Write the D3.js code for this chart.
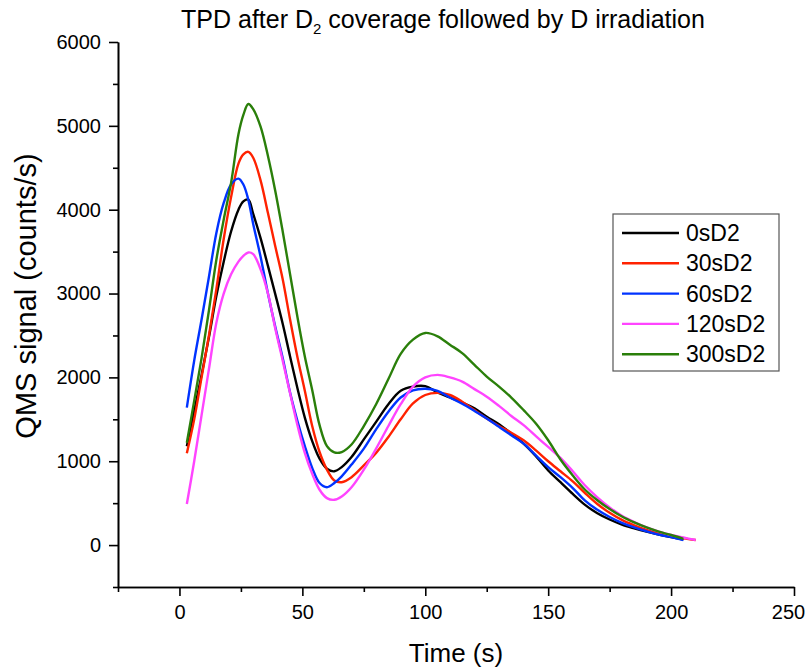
<!DOCTYPE html>
<html>
<head>
<meta charset="utf-8">
<script src="https://cdn.jsdelivr.net/npm/d3@7"></script>
<style>
  body { margin: 0; background: #fff; }
  text { font-family: "Liberation Sans", Arial, sans-serif; }
</style>
</head>
<body>
<div id="chart"></div>
<script>
// sample times (s); null where a run has already ended
const times = [3, 6, 9, 12, 15, 18, 21, 24, 26, 28, 30, 33, 36, 39, 42, 45, 48, 51, 54, 57, 60, 63, 66,
  70, 75, 80, 85, 90, 95, 100, 105, 110, 115, 120, 125, 130, 135, 140, 145, 150, 155, 160, 165, 170,
  175, 180, 185, 190, 195, 200, 205, 210];

const s0 = [1180, 1600, 2030, 2480, 2970, 3380, 3740, 4000, 4100, 4120, 3950, 3660, 3330, 2990, 2640, 2250, 1870, 1520, 1240, 1030, 910, 880,
  930, 1050, 1260, 1470, 1680, 1840, 1890, 1895, 1820, 1760, 1700, 1630, 1530, 1440, 1330, 1210, 1060, 890, 750, 610, 480, 380,
  305, 245, 200, 160, 125, 95, 65, null];
const s30 = [1095, 1500, 2000, 2500, 3050, 3650, 4150, 4550, 4660, 4690, 4620, 4350, 3960, 3560, 3170, 2690, 2240, 1840, 1420, 1110, 900, 770,
  750, 810, 950, 1100, 1290, 1500, 1690, 1790, 1815, 1790, 1710, 1610, 1510, 1420, 1340, 1250, 1130, 1000, 880, 760, 620, 490,
  385, 300, 235, 180, 140, 110, 80, 60];
const s60 = [1640, 2200, 2690, 3200, 3720, 4080, 4300, 4370, 4300, 4120, 3830, 3440, 3000, 2600, 2230, 1820, 1480, 1180, 920, 740, 690, 740,
  820, 960, 1150, 1380, 1590, 1760, 1845, 1865, 1840, 1760, 1685, 1600, 1510, 1410, 1310, 1210, 1070, 930, 810, 680, 530, 420,
  335, 265, 210, 165, 125, 95, 60, null];
const s120 = [490, 1000, 1550, 2100, 2650, 3000, 3230, 3380, 3450, 3490, 3470, 3290, 3000, 2580, 2200, 1810, 1430, 1100, 850, 660, 560, 540,
  580, 690, 900, 1150, 1420, 1680, 1890, 2000, 2030, 2000, 1950, 1860, 1770, 1660, 1540, 1430, 1300, 1170, 1040, 880, 710, 570,
  450, 350, 275, 210, 160, 120, 90, 60];
const s300 = [1220, 1720, 2230, 2800, 3400, 3880, 4320, 4900, 5130, 5260, 5200, 4990, 4640, 4220, 3740, 3230, 2720, 2250, 1850, 1430, 1180, 1105,
  1110, 1200, 1420, 1680, 1980, 2280, 2450, 2530, 2490, 2390, 2290, 2150, 2010, 1890, 1760, 1610, 1450, 1250, 1020, 830, 660, 535,
  430, 340, 270, 210, 160, 120, 75, null];

const seriesNames = ["0sD2", "30sD2", "60sD2", "120sD2", "300sD2"];
const seriesValues = [s0, s30, s60, s120, s300];
const seriesColors = ["#000000", "#ff2200", "#0033ff", "#ff44ff", "#2a7f0a"];

const xMajor = [0, 50, 100, 150, 200, 250];
const xMinor = [-25, 25, 75, 125, 175, 225];
const yMajor = [0, 1000, 2000, 3000, 4000, 5000, 6000];
const yMinor = [-500, 500, 1500, 2500, 3500, 4500, 5500];

const width = 809, height = 667;
const plotLeft = 118, plotRight = 794, plotTop = 42, plotBottom = 587;

const svg = d3.select("#chart").append("svg")
  .attr("width", width)
  .attr("height", height);

const x = d3.scaleLinear().domain([-25, 250]).range([plotLeft, plotRight]);
const y = d3.scaleLinear().domain([-500, 6000]).range([plotBottom, plotTop]);

// axes: major ticks with labels, minor ticks without
function styleAxis(g) {
  g.selectAll("path, line").attr("stroke", "#000").attr("stroke-width", 1.6);
  g.selectAll("text").attr("fill", "#000").style("font-size", "20px")
    .style("font-family", "'Liberation Sans', Arial, sans-serif");
}

svg.append("g")
  .attr("transform", `translate(0,${plotBottom})`)
  .call(d3.axisBottom(x).tickValues(xMinor).tickSize(5).tickFormat("").tickSizeOuter(0))
  .call(styleAxis);
const xAxis = svg.append("g")
  .attr("transform", `translate(0,${plotBottom})`)
  .call(d3.axisBottom(x).tickValues(xMajor).tickSize(9).tickPadding(9).tickSizeOuter(0))
  .call(styleAxis);
// keep the last label inside the page
xAxis.selectAll(".tick text").filter(d => d === 250).attr("dx", -6);

svg.append("g")
  .attr("transform", `translate(${plotLeft},0)`)
  .call(d3.axisLeft(y).tickValues(yMinor).tickSize(5).tickFormat("").tickSizeOuter(0))
  .call(styleAxis);
svg.append("g")
  .attr("transform", `translate(${plotLeft},0)`)
  .call(d3.axisLeft(y).tickValues(yMajor).tickSize(9).tickPadding(8).tickSizeOuter(0).tickFormat(d3.format("d")))
  .call(styleAxis);

// lines
const line = d3.line()
  .defined(d => d[1] != null)
  .x(d => x(d[0]))
  .y(d => y(d[1]))
  .curve(d3.curveCatmullRom.alpha(0.5));

seriesValues.forEach((vals, i) => {
  svg.append("path")
    .datum(times.map((t, j) => [t, vals[j]]))
    .attr("fill", "none")
    .attr("stroke", seriesColors[i])
    .attr("stroke-width", 2.4)
    .attr("stroke-linejoin", "round")
    .attr("d", line);
});

// title with subscript
const title = svg.append("text")
  .attr("x", 443)
  .attr("y", 28)
  .attr("text-anchor", "middle")
  .style("font-size", "25px");
title.append("tspan").text("TPD after D");
title.append("tspan").attr("dy", 6).style("font-size", "15px").text("2");
title.append("tspan").attr("dy", -6).text(" coverage followed by D irradiation");

// axis titles
svg.append("text")
  .attr("x", 456)
  .attr("y", 662)
  .attr("text-anchor", "middle")
  .style("font-size", "26px")
  .text("Time (s)");

svg.append("text")
  .attr("transform", "translate(36,296) rotate(-90)")
  .attr("text-anchor", "middle")
  .style("font-size", "29px")
  .text("QMS signal (counts/s)");

// legend
const legend = svg.append("g").attr("transform", "translate(613,214)");
legend.append("rect")
  .attr("width", 166)
  .attr("height", 157)
  .attr("fill", "#fff")
  .attr("stroke", "#555")
  .attr("stroke-width", 1.2);

seriesNames.forEach((name, i) => {
  const row = legend.append("g").attr("transform", `translate(0,${19 + i * 30.3})`);
  row.append("line")
    .attr("x1", 9).attr("x2", 66)
    .attr("stroke", seriesColors[i])
    .attr("stroke-width", 2.4);
  row.append("text")
    .attr("x", 73)
    .attr("y", 8)
    .style("font-size", "23px")
    .text(name);
});
</script>
</body>
</html>
